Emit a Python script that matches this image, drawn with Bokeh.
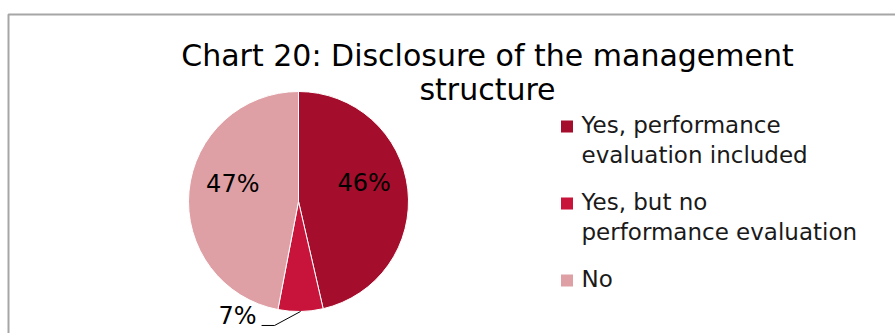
from math import pi, sin, cos
from bokeh.plotting import figure
from bokeh.models import Range1d, ColumnDataSource
from bokeh.core.properties import value
from bokeh.embed import file_html
from bokeh.resources import INLINE

# ---- data ----
title_lines = ["Chart 20: Disclosure of the management", "structure"]
categories = ["Yes, performance\nevaluation included",
              "Yes, but no\nperformance evaluation",
              "No"]
shares = [46.4, 6.6, 47.0]
pct_labels = ["46%", "7%", "47%"]
colors = ["#A50D2C", "#C8133A", "#DFA0A5"]

W, H = 895, 333
FONT = value("DejaVu Sans")


def sy(y):
    return H - y


p = figure(width=W, height=H, x_range=Range1d(0, W), y_range=Range1d(0, H),
           output_backend="svg", toolbar_location=None,
           x_axis_type=None, y_axis_type=None, min_border=0,
           outline_line_color=None, background_fill_color="white",
           border_fill_color="white")

# chart area border (top and left visible)
p.line(x=[8, 8, W + 5], y=[sy(H + 5), sy(14), sy(14)], line_color="#A6A6A6", line_width=2)

# title
p.text(x=[487, 487], y=[sy(55), sy(89)], text=title_lines, text_font=FONT,
       text_font_size="30px", text_align="center", text_baseline="middle",
       text_color="#000000")

# pie
cx, cy, R = 298, 201, 110
starts, ends, mids = [], [], []
acc = 0.0
total = sum(shares)
for s in shares:
    a0 = acc / total
    acc += s
    a1 = acc / total
    starts.append(pi / 2 - 2 * pi * a0)
    ends.append(pi / 2 - 2 * pi * a1)
    mids.append((a0 + a1) / 2)

src = ColumnDataSource(dict(start=starts, end=ends, color=colors))
p.wedge(x=cx, y=sy(cy), radius=R, start_angle="start", end_angle="end",
        direction="clock", fill_color="color", line_color="white",
        line_width=1, source=src)

# labels
for i, (m, lab) in enumerate(zip(mids, pct_labels)):
    ang = 2 * pi * m  # clockwise from top
    if shares[i] >= 10:
        r = 66
        lx = cx + r * sin(ang)
        ly = cy - r * cos(ang) - 11
        p.text(x=[lx], y=[sy(ly)], text=[lab], text_font=FONT,
               text_font_size="24px", text_align="center",
               text_baseline="middle", text_color="#000000")
    else:
        ox = cx + R * sin(ang)
        oy = cy - R * cos(ang)
        ex, ey = ox - 26, oy + 14
        hx = ex - 13
        p.line(x=[ox, ex, hx], y=[sy(oy), sy(ey), sy(ey)],
               line_color="#000000", line_width=1)
        p.text(x=[hx - 5], y=[sy(ey - 9)], text=[lab], text_font=FONT,
               text_font_size="24px", text_align="right",
               text_baseline="middle", text_color="#000000")

# legend
base0 = 124
line_gap = 30
entry_gap = 17
line_idx = 0
for i, (cat, col) in enumerate(zip(categories, colors)):
    parts = cat.split("\n")
    first = base0 + line_gap * line_idx + entry_gap * i
    p.rect(x=[566.5], y=[sy(first + 2)], width=12, height=12,
           fill_color=col, line_color=None)
    for j, t in enumerate(parts):
        p.text(x=[581], y=[sy(first + line_gap * j)], text=[t],
               text_font=FONT, text_font_size="23px", text_align="left",
               text_baseline="middle", text_color="#1a1a1a")
    line_idx += len(parts)

open("out.html", "w").write(file_html(p, INLINE))
